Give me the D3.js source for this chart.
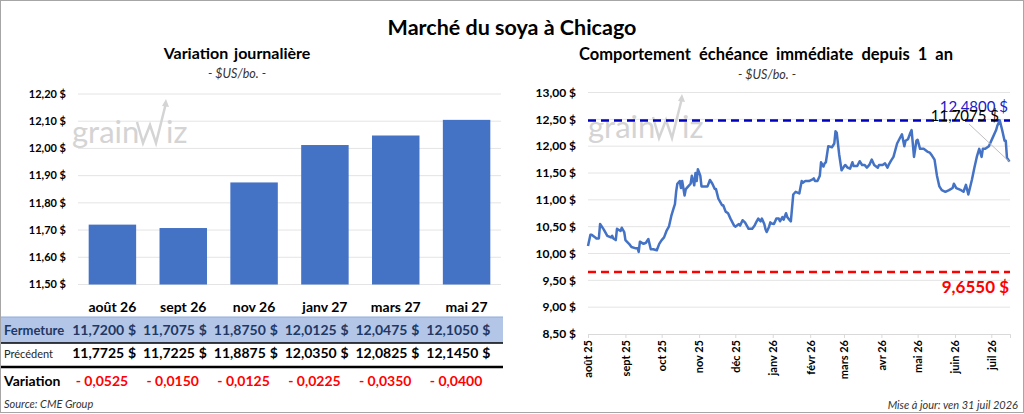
<!DOCTYPE html>
<html lang="fr">
<head>
<meta charset="UTF-8">
<title>Marché du soya à Chicago</title>
<script src="https://cdn.jsdelivr.net/npm/d3@7"></script>
<style>
    body { margin: 0; background: #fff; }
    svg { display: block; font-family: Lato, "Open Sans", sans-serif; }
</style>
</head>
<body>
<script>
    const width = 1024, height = 414;

    // --- variation journalière (contrats)
    const contrats = ["août 26", "sept 26", "nov 26", "janv 27", "mars 27", "mai 27"];
    const fermeture = [11.7200, 11.7075, 11.8750, 12.0125, 12.0475, 12.1050];
    const precedent = [11.7725, 11.7225, 11.8875, 12.0350, 12.0825, 12.1450];
    const variation = [-0.0525, -0.0150, -0.0125, -0.0225, -0.0350, -0.0400];
    const barTicks = [11.5, 11.6, 11.7, 11.8, 11.9, 12.0, 12.1, 12.2];

    // --- échéance immédiate depuis 1 an (jours depuis le 1er août 2025)
    const jours = [0, 2, 3, 6, 7, 9, 10, 13, 16, 19, 20, 21, 23, 24, 27, 28, 30, 31, 34, 36,
        39, 41, 42, 43, 46, 48, 50, 52, 54, 57, 59, 61, 63, 65, 67, 69, 71, 72, 73, 74,
        76, 77, 78, 80, 81, 83, 85, 86, 88, 89, 90, 91, 93, 94, 96, 99, 101, 103, 105, 106,
        108, 111, 112, 114, 116, 118, 121, 122, 125, 126, 128, 130, 132, 133, 136, 138, 139, 141, 143, 144,
        146, 147, 148, 150, 151, 152, 154, 156, 158, 159, 161, 162, 164, 165, 166, 168, 170, 172, 175, 177,
        178, 180, 183, 186, 187, 188, 190, 192, 193, 195, 196, 197, 199, 202, 204, 205, 206, 208, 210, 212,
        213, 215, 217, 219, 220, 223, 225, 227, 229, 231, 233, 235, 237, 240, 241, 244, 246, 248, 249, 251,
        253, 256, 259, 260, 262, 263, 265, 267, 268, 270, 272, 273, 275, 278, 281, 283, 285, 287, 289, 291,
        293, 296, 299, 302, 303, 305, 309, 311, 313, 315, 318, 320, 322, 324, 326, 327, 329, 332, 333, 335,
        338, 339, 341, 343, 345, 346, 347, 348, 349];
    const prix = [10.14, 10.35, 10.35, 10.30, 10.28, 10.28, 10.55, 10.45, 10.33, 10.30, 10.33, 10.28, 10.25, 10.46, 10.42, 10.48, 10.40, 10.25, 10.18, 10.12,
        10.10, 10.10, 10.03, 10.22, 10.18, 10.20, 10.27, 10.08, 10.08, 10.06, 10.18, 10.25, 10.30, 10.42, 10.50, 10.70, 10.85, 10.92, 11.15, 11.30,
        11.35, 11.22, 11.35, 11.08, 11.20, 11.25, 11.30, 11.45, 11.27, 11.50, 11.35, 11.57, 11.45, 11.25, 11.25, 11.25, 11.37, 11.30, 11.20, 11.20,
        11.02, 10.90, 10.90, 10.78, 10.75, 10.65, 10.52, 10.50, 10.55, 10.52, 10.62, 10.58, 10.50, 10.46, 10.46, 10.52, 10.57, 10.65, 10.60, 10.65,
        10.55, 10.45, 10.40, 10.50, 10.58, 10.56, 10.55, 10.65, 10.65, 10.60, 10.68, 10.63, 10.75, 10.68, 10.65, 10.60, 11.10, 11.15, 11.12, 11.35,
        11.32, 11.35, 11.35, 11.38, 11.40, 11.35, 11.35, 11.45, 11.70, 11.62, 11.68, 11.70, 12.00, 11.98, 12.05, 12.28, 12.25, 11.85, 11.55, 11.62,
        11.65, 11.60, 11.58, 11.70, 11.63, 11.63, 11.72, 11.65, 11.65, 11.60, 11.65, 11.75, 11.65, 11.60, 11.65, 11.65, 11.68, 11.60, 11.65, 11.73,
        11.80, 12.05, 12.18, 12.22, 12.00, 12.10, 12.13, 12.25, 12.30, 11.80, 12.10, 12.12, 11.95, 11.95, 11.90, 11.88, 11.82, 11.75, 11.45, 11.25,
        11.18, 11.15, 11.18, 11.22, 11.30, 11.22, 11.18, 11.15, 11.28, 11.10, 11.38, 11.60, 11.80, 11.95, 11.80, 11.95, 11.95, 12.00, 12.05, 12.15,
        12.30, 12.38, 12.48, 12.30, 12.10, 12.10, 11.78, 11.75, 11.71];
    const lineTicks = [8.5, 9.0, 9.5, 10.0, 10.5, 11.0, 11.5, 12.0, 12.5, 13.0];
    const prixHaut = 12.48, prixBas = 9.655, dernierPrix = 11.7075;

    const fr = d3.formatLocale({ decimal: ",", thousands: " ", grouping: [3], currency: ["", " $"] });
    const f2 = fr.format(".2f"), f4 = fr.format(".4f");
    const frTime = d3.timeFormatLocale({
        dateTime: "%A %e %B %Y", date: "%d/%m/%Y", time: "%H:%M:%S", periods: ["AM", "PM"],
        days: ["dimanche", "lundi", "mardi", "mercredi", "jeudi", "vendredi", "samedi"],
        shortDays: ["dim", "lun", "mar", "mer", "jeu", "ven", "sam"],
        months: ["janvier", "février", "mars", "avril", "mai", "juin", "juillet", "août", "septembre", "octobre", "novembre", "décembre"],
        shortMonths: ["janv", "févr", "mars", "avr", "mai", "juin", "juil", "août", "sept", "oct", "nov", "déc"]
    });
    const moisFmt = frTime.format("%b %y");

    const svg = d3.select("body").append("svg")
        .attr("width", width).attr("height", height);

    svg.append("rect").attr("x", 0.5).attr("y", 0.5)
        .attr("width", width - 1).attr("height", height - 2)
        .attr("fill", "#fff").attr("stroke", "#a6a6a6");

    svg.append("text").attr("x", 512).attr("y", 35).attr("text-anchor", "middle")
        .attr("font-size", 21.5).attr("font-weight", "bold").attr("fill", "#000")
        .text("Marché du soya à Chicago");

    function watermark(x, y) {
        const g = svg.append("g").attr("transform", `translate(${x},${y})`).attr("fill", "#d4d4d4");
        g.append("text").attr("x", 0).attr("y", 0).attr("font-size", 31).text("grain");
        g.append("path")
            .attr("d", "M65,-21 L71,0 L78,-18 L84,0 L94,-40")
            .attr("fill", "none").attr("stroke", "#d4d4d4").attr("stroke-width", 2.5);
        g.append("path").attr("d", "M90,-37 L94,-44 L97,-36 Z");
        g.append("text").attr("x", 94).attr("y", 0).attr("font-size", 31).text("iz");
    }

    // ================= gauche : barres
    const yBar = d3.scaleLinear().domain([11.5, 12.2]).range([284.5, 94]);
    const xBand = d3.scaleBand().domain(contrats).range([77, 502])
        .paddingInner(0.33).paddingOuter(0.165);

    svg.append("text").attr("x", 237).attr("y", 59).attr("text-anchor", "middle")
        .attr("font-size", 16).attr("font-weight", "bold").attr("word-spacing", 2).text("Variation journalière");
    svg.append("text").attr("x", 237).attr("y", 78).attr("text-anchor", "middle")
        .attr("font-size", 12.5).attr("font-style", "italic").attr("fill", "#333").text("- $US/bo. -");

    svg.append("g").selectAll("line").data(barTicks).enter().append("line")
        .attr("x1", 78).attr("x2", 501)
        .attr("y1", d => yBar(d)).attr("y2", d => yBar(d))
        .attr("stroke", "#e4e4e4");
    svg.append("g").selectAll("text").data(barTicks).enter().append("text")
        .attr("x", 66).attr("y", d => yBar(d)).attr("dy", "0.35em")
        .attr("text-anchor", "end").attr("font-size", 11).attr("font-weight", "bold")
        .text(d => f2(d) + " $");

    watermark(72, 143);

    svg.append("g").selectAll("rect").data(contrats).enter().append("rect")
        .attr("x", d => xBand(d)).attr("width", xBand.bandwidth())
        .attr("y", (d, i) => yBar(fermeture[i]))
        .attr("height", (d, i) => yBar(11.5) - yBar(fermeture[i]))
        .attr("fill", "#4472c4");

    // tableau
    svg.append("g").selectAll("text").data(contrats).enter().append("text")
        .attr("x", d => xBand(d) + xBand.bandwidth() / 2).attr("y", 312)
        .attr("text-anchor", "middle").attr("font-size", 14).attr("font-weight", "bold")
        .text(d => d);

    svg.append("rect").attr("x", 1).attr("y", 317).attr("width", 502).attr("height", 26).attr("fill", "#b4c6e7");
    svg.append("line").attr("x1", 1).attr("x2", 503).attr("y1", 317).attr("y2", 317).attr("stroke", "#8eaadb");
    svg.append("line").attr("x1", 1).attr("x2", 503).attr("y1", 343).attr("y2", 343).attr("stroke", "#000").attr("stroke-width", 1.5);
    svg.append("line").attr("x1", 1).attr("x2", 503).attr("y1", 367).attr("y2", 367).attr("stroke", "#000").attr("stroke-width", 2.5);

    svg.append("text").attr("x", 4).attr("y", 335).attr("font-size", 13).attr("font-weight", "bold")
        .attr("fill", "#1f3864").text("Fermeture");
    svg.append("text").attr("x", 4).attr("y", 358).attr("font-size", 11).attr("fill", "#262626").text("Précédent");
    svg.append("text").attr("x", 4).attr("y", 386).attr("font-size", 14).attr("font-weight", "bold").text("Variation");

    function rangee(valeurs, y, couleur) {
        const g = svg.append("g").attr("font-size", 14).attr("font-weight", "bold").attr("fill", couleur);
        g.selectAll(".num").data(valeurs).enter().append("text").attr("class", "num")
            .attr("x", (d, i) => xBand(contrats[i]) + xBand.bandwidth() - 12).attr("y", y)
            .attr("text-anchor", "end").text(d => f4(d));
        g.selectAll(".dol").data(valeurs).enter().append("text").attr("class", "dol")
            .attr("x", (d, i) => xBand(contrats[i]) + xBand.bandwidth()).attr("y", y)
            .attr("text-anchor", "end").text("$");
    }
    rangee(fermeture, 335, "#1f3864");
    rangee(precedent, 358, "#000");

    svg.append("g").selectAll("text").data(variation).enter().append("text")
        .attr("x", (d, i) => xBand(contrats[i]) + xBand.bandwidth() - 8).attr("y", 386)
        .attr("text-anchor", "end").attr("font-size", 14).attr("font-weight", "bold").attr("fill", "#ff0000")
        .text(d => (d < 0 ? "- " : "") + f4(Math.abs(d)));

    svg.append("text").attr("x", 4).attr("y", 408).attr("font-size", 11).attr("font-style", "italic")
        .attr("fill", "#333").text("Source: CME Group");

    // ================= droite : ligne
    const debut = new Date(2025, 7, 1);
    const dates = jours.map(j => d3.timeDay.offset(debut, j));
    const xTime = d3.scaleTime().domain([debut, new Date(2026, 6, 16, 12)]).range([588, 1010]);
    const yLine = d3.scaleLinear().domain([8.5, 13]).range([334, 92.5]);

    svg.append("text").attr("x", 766).attr("y", 60).attr("text-anchor", "middle")
        .attr("font-size", 16.5).attr("font-weight", "bold").attr("word-spacing", 4)
        .text("Comportement échéance immédiate depuis 1 an");
    svg.append("text").attr("x", 767).attr("y", 79).attr("text-anchor", "middle")
        .attr("font-size", 12.5).attr("font-style", "italic").attr("fill", "#333").text("- $US/bo. -");

    svg.append("g").selectAll("line").data(lineTicks.slice(1)).enter().append("line")
        .attr("x1", 588).attr("x2", 1010)
        .attr("y1", d => yLine(d)).attr("y2", d => yLine(d))
        .attr("stroke", "#e4e4e4");
    svg.append("g").selectAll("text").data(lineTicks).enter().append("text")
        .attr("x", 576).attr("y", d => yLine(d)).attr("dy", "0.35em")
        .attr("text-anchor", "end").attr("font-size", 12).attr("font-weight", "bold")
        .text(d => f2(d) + " $");

    const mois = d3.timeMonth.range(debut, new Date(2026, 6, 2));
    const xAxis = svg.append("g").attr("transform", "translate(0,334)")
        .call(d3.axisBottom(xTime).tickValues(mois).tickSize(4).tickFormat(d => moisFmt(d)));
    xAxis.select(".domain").attr("stroke", "#d9d9d9");
    xAxis.selectAll(".tick line").attr("stroke", "#d9d9d9");
    xAxis.selectAll(".tick text")
        .attr("font-family", "Lato, 'Open Sans', sans-serif").attr("font-size", 11).attr("font-weight", "bold")
        .attr("fill", "#000").attr("text-anchor", "end")
        .attr("transform", "rotate(-90)").attr("x", -6).attr("y", 0).attr("dy", "0.35em");

    watermark(588, 138);

    svg.append("line").attr("x1", 588).attr("x2", 1010)
        .attr("y1", yLine(prixHaut)).attr("y2", yLine(prixHaut))
        .attr("stroke", "#0000c0").attr("stroke-width", 2.5).attr("stroke-dasharray", "8,5");
    svg.append("line").attr("x1", 588).attr("x2", 1010)
        .attr("y1", yLine(prixBas)).attr("y2", yLine(prixBas))
        .attr("stroke", "#ff0000").attr("stroke-width", 2.5).attr("stroke-dasharray", "8,5");

    const ligne = d3.line().x((d, i) => xTime(dates[i])).y(d => yLine(d));
    svg.append("path").datum(prix).attr("d", ligne)
        .attr("fill", "none").attr("stroke", "#4472c4").attr("stroke-width", 2.5).attr("stroke-linejoin", "round");

    // étiquettes (superposées comme dans l'original)
    const xFin = xTime(dates[dates.length - 1]), yFin = yLine(prix[prix.length - 1]);
    svg.append("line").attr("x1", 969).attr("y1", 124).attr("x2", xFin).attr("y2", yFin)
        .attr("stroke", "#bfbfbf").attr("stroke-width", 1);
    svg.append("text").attr("x", 1008).attr("y", 112).attr("text-anchor", "end")
        .attr("font-size", 15).attr("fill", "#2020c8").text(f4(prixHaut) + " $");
    svg.append("text").attr("x", 999).attr("y", 121).attr("text-anchor", "end")
        .attr("font-size", 15).attr("fill", "#000").text(f4(dernierPrix) + " $");
    svg.append("text").attr("x", 1009).attr("y", 293).attr("text-anchor", "end")
        .attr("font-size", 17).attr("font-weight", "bold").attr("fill", "#ff0000").text(f4(prixBas) + " $");

    svg.append("text").attr("x", 1018).attr("y", 409).attr("text-anchor", "end")
        .attr("font-size", 11).attr("font-style", "italic").attr("fill", "#333")
        .text("Mise à jour: ven 31 juil 2026");
</script>
</body>
</html>
